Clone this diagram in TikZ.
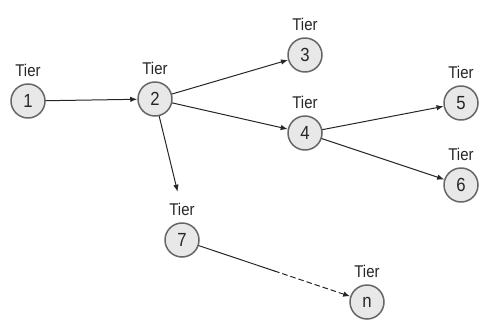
\documentclass[tikz,border=0pt]{standalone}
\usepackage{fontspec}
\setmainfont{Liberation Sans}[FakeStretch=0.88]
\usetikzlibrary{arrows.meta,positioning,calc}

\begin{document}
\begin{tikzpicture}[x=1pt,y=-1pt,line cap=round,line join=round,
  >={Latex[length=7pt,width=5.5pt]},
  tier/.style={circle,draw=black!60,fill=black!9,line width=1.5pt,minimum size=34pt,inner sep=0pt,font=\fontsize{19}{19}\selectfont,text=black!85},
  tierlbl/.style={inner sep=0pt,font=\fontsize{17}{17}\selectfont,text=black!85},
  link/.style={->,draw=black!85,line width=1pt}]
\useasboundingbox (0,0) rectangle (481,321);
% the tiers
\node[tier] (c1) at (28,101) {1};
\node[tier] (c2) at (155,99) {2};
\node[tier] (c3) at (305,55) {3};
\node[tier] (c4) at (305,133) {4};
\node[tier] (c5) at (461,103) {5};
\node[tier] (c6) at (461,185) {6};
\node[tier] (c7) at (182,240) {7};
\node[tier] (cn) at (367,302) {n};
% labels above
\node[tierlbl,above=6pt of c1] (t1) {Tier};
\node[tierlbl,above=6pt of c2] (t2) {Tier};
\node[tierlbl,above=6pt of c3] (t3) {Tier};
\node[tierlbl,above=6pt of c4] (t4) {Tier};
\node[tierlbl,above=6pt of c5] (t5) {Tier};
\node[tierlbl,above=6pt of c6] (t6) {Tier};
\node[tierlbl,above=6pt of c7] (t7) {Tier};
\node[tierlbl,above=6pt of cn] (tn) {Tier};
% connections
\draw[link] (c1) -- (c2);
\draw[link] (c2) -- (c3);
\draw[link] (c2) -- (c4);
\draw[link,shorten >=12pt] (c2) -- (t7);
\draw[link] (c4) -- (c5);
\draw[link] (c4) -- (c6);
\coordinate (m7) at ($(c7)!0.5!(cn)$);
\draw[draw=black!85,line width=1pt] (c7) -- (m7);
\draw[link,dash pattern=on 5pt off 3.5pt] (m7) -- (cn);
\end{tikzpicture}
\end{document}
